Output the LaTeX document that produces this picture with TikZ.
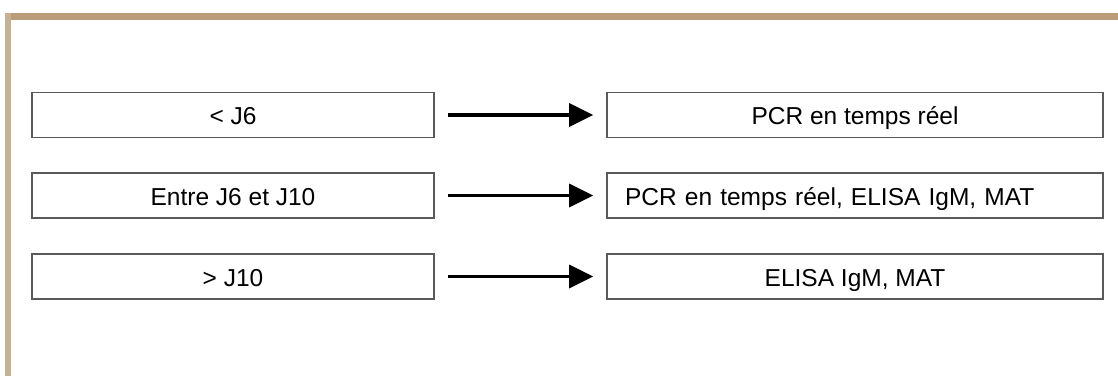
\documentclass[tikz,border=0pt]{standalone}
\usepackage{fontspec}
\setmainfont{Liberation Sans}
\usetikzlibrary{arrows.meta}
\definecolor{frametan}{RGB}{186,156,120}
\definecolor{boxline}{RGB}{90,90,90}
\tikzset{
  stagebox/.style={draw=boxline, line width=1.6pt, minimum height=45pt, inner sep=0pt,
    text height=22pt, text depth=3pt, font=\fontsize{24.5}{28}\selectfont},
  leftbox/.style={stagebox, minimum width=402pt},
  rightbox/.style={stagebox, minimum width=496pt},
  flow/.style={-{Triangle[length=24pt,width=23pt]}, line width=3.6pt, shorten <=13pt, shorten >=13pt}
}
\begin{document}
\begin{tikzpicture}[x=1pt,y=-1pt]
\useasboundingbox (0,0) rectangle (1118,376);
\fill[white] (0,0) rectangle (1118,376);
% frame
\fill[frametan] (5,13) rectangle (1118,20);
\fill[frametan!80] (5,13) rectangle (11,376);
% boxes
\node[leftbox] (l1) at (233,115) {< J6};
\node[leftbox] (l2) at (233,195.5) {Entre J6 et J10};
\node[leftbox] (l3) at (233,276.5) {> J10};
\node[rightbox] (r1) at (855,115) {PCR en temps réel};
\node[rightbox, text width=460pt, align=left] (r2) at (855,195.5) {PCR en temps réel, ELISA IgM, MAT};
\node[rightbox] (r3) at (855,276.5) {ELISA IgM, MAT};
% arrows
\draw[flow] (l1) -- (r1);
\draw[flow] (l2) -- (r2);
\draw[flow] (l3) -- (r3);
\end{tikzpicture}
\end{document}
